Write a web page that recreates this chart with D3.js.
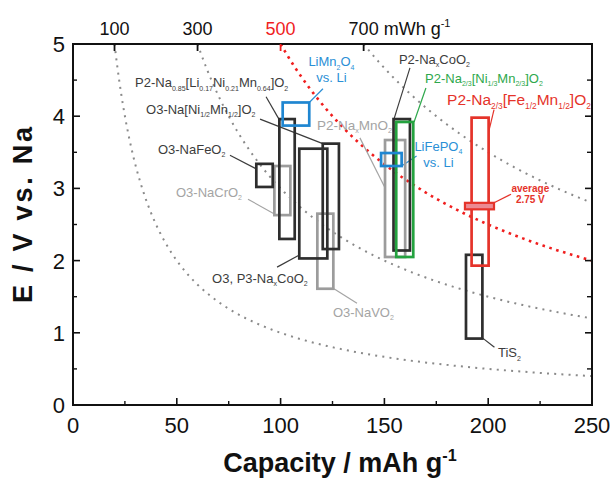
<!DOCTYPE html>
<html><head><meta charset="utf-8">
<script src="https://cdn.jsdelivr.net/npm/d3@7"></script>
<style>
html,body{margin:0;padding:0;background:#fff;}
svg{display:block;font-family:"Liberation Sans",Arial,Helvetica,sans-serif;}
</style></head>
<body><svg id="chart" width="614" height="479"></svg>
<script>
// ---------------- data ----------------
const capacityTicks = [0, 50, 100, 150, 200, 250];
const capacityMinorTicks = [25, 75, 125, 175, 225];
const voltageTicks = [0, 1, 2, 3, 4, 5];
const voltageMinorTicks = [0.5, 1.5, 2.5, 3.5, 4.5];
const energyLevels = [100, 300, 500, 700];           // mWh g-1 iso-energy curves
const energyLabels = ["100", "300", "500", "700"];

const materials = [
  "O3-NaCrO_{2}",
  "O3-NaVO_{2}",
  "P2-Na_{x}MnO_{2}",
  "P2-Na_{0.85}[Li_{0.17}Ni_{0.21}Mn_{0.64}]O_{2}",
  "O3-NaFeO_{2}",
  "O3, P3-Na_{x}CoO_{2}",
  "O3-Na[Ni_{1/2}Mn_{1/2}]O_{2}",
  "P2-Na_{x}CoO_{2}",
  "TiS_{2}",
  "P2-Na_{2/3}[Ni_{1/3}Mn_{2/3}]O_{2}",
  "LiMn_{2}O_{4}",
  "LiFePO_{4}",
  "P2-Na_{2/3}[Fe_{1/2}Mn_{1/2}]O_{2}"
];
const capMin = [97.0, 117.7, 150.3, 99.4, 88.3, 109.0, 120.3, 154.4, 189.3, 155.7, 101.0, 148.4, 192.0];
const capMax = [104.7, 125.4, 160.0, 106.8, 96.2, 122.5, 128.1, 162.3, 197.2, 163.9, 113.8, 158.3, 200.2];
const voltMin = [2.63, 1.61, 2.05, 2.30, 3.02, 2.03, 2.16, 2.14, 0.92, 2.05, 3.87, 3.31, 1.93];
const voltMax = [3.31, 2.65, 3.67, 3.96, 3.34, 3.55, 3.62, 3.96, 2.08, 3.92, 4.19, 3.49, 3.98];
const family = ["Na oxide (other)", "Na oxide (other)", "Na oxide (other)", "Na oxide", "Na oxide",
  "Na oxide", "Na oxide", "Na oxide", "Na oxide", "P2 Ni-Mn", "Li reference", "Li reference", "P2 Fe-Mn"];

const averageVoltage = 2.75;
const averageCapRange = [188.8, 202.8];
const averageVoltRange = [2.71, 2.80];
const averageLabel = ["average", "2.75 V"];

// ---------------- layout / style ----------------
const W = 614, H = 479;
const M = {left: 73, right: 22, top: 44, bottom: 74};
const colors = {
  "Na oxide": "#2e2e2e",
  "Na oxide (other)": "#9c9c9c",
  "P2 Ni-Mn": "#24a23f",
  "Li reference": "#1f86d1",
  "P2 Fe-Mn": "#e5332a"
};
const textColors = {
  "Na oxide": "#3c3c3c",
  "Na oxide (other)": "#a4a4a4",
  "P2 Ni-Mn": "#2ea84c",
  "Li reference": "#2a8fd6",
  "P2 Fe-Mn": "#e5332a"
};
// label placement in data units: [cap, V] of text start/middle, and leader line [from, to]
const labelLayout = {
  "O3-NaCrO_{2}": {at: [49.6, 2.88], anchor: "start", size: 13, line: [[84.3, 2.85], [96.8, 2.65]]},
  "O3-NaVO_{2}": {at: [125.2, 1.22], anchor: "start", size: 13, line: [[125.7, 1.61], [136.8, 1.41]]},
  "P2-Na_{x}MnO_{2}": {at: [117.5, 3.81], anchor: "start", size: 13.5, line: [[138.2, 3.70], [150.3, 3.01]]},
  "P2-Na_{0.85}[Li_{0.17}Ni_{0.21}Mn_{0.64}]O_{2}": {at: [29.9, 4.40], anchor: "start", size: 13, line: [[93.0, 4.27], [99.2, 3.96]]},
  "O3-NaFeO_{2}": {at: [40.9, 3.48], anchor: "start", size: 13, line: [[75.6, 3.46], [88.3, 3.27]]},
  "O3, P3-Na_{x}CoO_{2}": {at: [67.0, 1.69], anchor: "start", size: 13, line: [[98.3, 1.91], [108.6, 2.07]]},
  "O3-Na[Ni_{1/2}Mn_{1/2}]O_{2}": {at: [35.2, 4.03], anchor: "start", size: 13, line: [[90.1, 3.96], [120.3, 3.62]]},
  "P2-Na_{x}CoO_{2}": {at: [157.0, 4.72], anchor: "start", size: 13, line: [[162.3, 4.67], [154.6, 3.96]]},
  "TiS_{2}": {at: [204.7, 0.66], anchor: "start", size: 13, line: [[197.2, 0.93], [203.0, 0.80]]},
  "P2-Na_{2/3}[Ni_{1/3}Mn_{2/3}]O_{2}": {at: [169.6, 4.46], anchor: "start", size: 13, line: [[170.0, 4.39], [164.3, 3.92]]},
  "LiMn_{2}O_{4}": {at: [124.5, 4.69], anchor: "middle", size: 13, second: "vs. Li", line: [[120.4, 4.38], [113.8, 4.19]]},
  "LiFePO_{4}": {at: [176.0, 3.52], anchor: "middle", size: 13, second: "vs. Li", line: [[158.3, 3.31], [165.5, 3.45]]},
  "P2-Na_{2/3}[Fe_{1/2}Mn_{1/2}]O_{2}": {at: [180.2, 4.16], anchor: "start", size: 15.5, line: [[202.8, 4.09], [200.2, 3.78]]}
};

const svg = d3.select("#chart");
const x = d3.scaleLinear().domain([0, 250]).range([M.left, W - M.right]);
const y = d3.scaleLinear().domain([0, 5]).range([H - M.bottom, M.top]);

// rich text helper: _{sub} ^{sup}
function rich(textSel, str, size) {
  const parts = str.split(/(_\{[^}]*\}|\^\{[^}]*\})/).filter(p => p.length);
  let shift = 0;
  parts.forEach(p => {
    const t = textSel.append("tspan");
    if (p.startsWith("_{")) {
      const d = size * 0.25;
      t.text(p.slice(2, -1)).attr("font-size", size * 0.54).attr("dy", d - shift);
      shift = d;
    } else if (p.startsWith("^{")) {
      const d = -size * 0.42;
      t.text(p.slice(2, -1)).attr("font-size", size * 0.6).attr("dy", d - shift);
      shift = d;
    } else {
      t.text(p).attr("dy", -shift);
      shift = 0;
    }
  });
}

// ---------- iso-energy dotted curves ----------
const curveG = svg.append("g");
energyLevels.forEach(E => {
  const c0 = E / 5;
  const pts = d3.range(0, 201).map(i => {
    const c = c0 + (250 - c0) * i / 200;
    return [c, E / c];
  });
  const red = E === 500;
  curveG.append("path")
    .attr("d", d3.line().x(d => x(d[0])).y(d => y(d[1]))(pts))
    .attr("fill", "none")
    .attr("stroke", red ? "#f01e1e" : "#8a8a8a")
    .attr("stroke-width", red ? 2.6 : 2)
    .attr("stroke-dasharray", red ? "2.6,4.6" : "2,5.2");
});

// ---------- leader lines ----------
const lineG = svg.append("g");
materials.forEach((m, i) => {
  const L = labelLayout[m];
  lineG.append("line")
    .attr("x1", x(L.line[0][0])).attr("y1", y(L.line[0][1]))
    .attr("x2", x(L.line[1][0])).attr("y2", y(L.line[1][1]))
    .attr("stroke", textColors[family[i]]).attr("stroke-width", 1.2);
});
lineG.append("line")
  .attr("x1", x(averageCapRange[1])).attr("y1", y(averageVoltRange[1]))
  .attr("x2", x(211)).attr("y2", y(2.92))
  .attr("stroke", "#e5332a").attr("stroke-width", 1.2);

// ---------- boxes ----------
const boxG = svg.append("g");
d3.range(materials.length).forEach(i => {
  boxG.append("rect")
    .attr("x", x(capMin[i])).attr("y", y(voltMax[i]))
    .attr("width", x(capMax[i]) - x(capMin[i]))
    .attr("height", y(voltMin[i]) - y(voltMax[i]))
    .attr("fill", "none")
    .attr("stroke", colors[family[i]])
    .attr("stroke-width", 2.7);
});
// average bar
boxG.append("rect")
  .attr("x", x(averageCapRange[0])).attr("y", y(averageVoltRange[1]))
  .attr("width", x(averageCapRange[1]) - x(averageCapRange[0]))
  .attr("height", y(averageVoltRange[0]) - y(averageVoltRange[1]))
  .attr("fill", "#ec8a93").attr("stroke", "#e5332a").attr("stroke-width", 2.2);

// ---------- labels ----------
const labG = svg.append("g");
materials.forEach((m, i) => {
  const L = labelLayout[m];
  const t = labG.append("text")
    .attr("x", x(L.at[0])).attr("y", y(L.at[1]))
    .attr("text-anchor", L.anchor)
    .attr("font-size", L.size)
    .attr("fill", textColors[family[i]]);
  rich(t, m, L.size);
  if (L.second) {
    labG.append("text")
      .attr("x", x(L.at[0])).attr("y", y(L.at[1]) + 16)
      .attr("text-anchor", L.anchor)
      .attr("font-size", L.size)
      .attr("fill", textColors[family[i]])
      .text(L.second);
  }
});
averageLabel.forEach((s, k) => {
  labG.append("text")
    .attr("x", x(220.3)).attr("y", y(2.95) + k * 10.5)
    .attr("text-anchor", "middle")
    .attr("font-size", 10).attr("font-weight", "bold")
    .attr("fill", "#e5332a").text(s);
});

// ---------- axes frame & ticks ----------
const axG = svg.append("g");
axG.append("rect")
  .attr("x", x(0)).attr("y", y(5))
  .attr("width", x(250) - x(0)).attr("height", y(0) - y(5))
  .attr("fill", "none").attr("stroke", "#111").attr("stroke-width", 2);

const tickStroke = "#111";
capacityTicks.forEach(c => axG.append("line").attr("x1", x(c)).attr("x2", x(c))
  .attr("y1", y(0)).attr("y2", y(0) - 7).attr("stroke", tickStroke).attr("stroke-width", 1.6));
capacityMinorTicks.forEach(c => axG.append("line").attr("x1", x(c)).attr("x2", x(c))
  .attr("y1", y(0)).attr("y2", y(0) - 4).attr("stroke", tickStroke).attr("stroke-width", 1.4));
voltageTicks.forEach(v => {
  axG.append("line").attr("x1", x(0)).attr("x2", x(0) + 7).attr("y1", y(v)).attr("y2", y(v))
    .attr("stroke", tickStroke).attr("stroke-width", 1.6);
  axG.append("line").attr("x1", x(250)).attr("x2", x(250) - 7).attr("y1", y(v)).attr("y2", y(v))
    .attr("stroke", tickStroke).attr("stroke-width", 1.6);
});
voltageMinorTicks.forEach(v => {
  axG.append("line").attr("x1", x(0)).attr("x2", x(0) + 4).attr("y1", y(v)).attr("y2", y(v))
    .attr("stroke", tickStroke).attr("stroke-width", 1.4);
  axG.append("line").attr("x1", x(250)).attr("x2", x(250) - 5).attr("y1", y(v)).attr("y2", y(v))
    .attr("stroke", tickStroke).attr("stroke-width", 1.4);
});
energyLevels.forEach(E => axG.append("line").attr("x1", x(E / 5)).attr("x2", x(E / 5))
  .attr("y1", y(5)).attr("y2", y(5) + 7)
  .attr("stroke", E === 500 ? "#f01e1e" : tickStroke).attr("stroke-width", 1.8));

// tick labels
capacityTicks.forEach(c => axG.append("text").attr("x", x(c)).attr("y", 433)
  .attr("text-anchor", "middle").attr("font-size", 22).attr("fill", "#111").text(c));
voltageTicks.forEach(v => axG.append("text").attr("x", 65).attr("y", y(v))
  .attr("dy", "0.36em").attr("text-anchor", "end").attr("font-size", 22).attr("fill", "#111").text(v));
energyLevels.forEach((E, k) => {
  const t = axG.append("text").attr("y", 35).attr("font-size", 18)
    .attr("fill", E === 500 ? "#f01e1e" : "#111");
  const first = t.append("tspan").text(energyLabels[k]);
  if (k === energyLevels.length - 1) {
    t.append("tspan").text(" mWh g");
    t.append("tspan").text("-1").attr("font-size", 11).attr("dy", -8);
  }
  const len = first.node().getComputedTextLength();
  t.attr("x", x(E / 5) - len / 2);
});

// axis titles
const xt = svg.append("text").attr("x", 340).attr("y", 472).attr("text-anchor", "middle")
  .attr("font-size", 27).attr("font-weight", "bold").attr("fill", "#111");
rich(xt, "Capacity / mAh g^{-1}", 27);
svg.append("text").attr("transform", "translate(32,215) rotate(-90)")
  .attr("text-anchor", "middle").attr("font-size", 27).attr("font-weight", "bold")
  .attr("fill", "#111")
  .attr("textLength", 176).attr("lengthAdjust", "spacing")
  .text("E / V vs. Na");
</script></body></html>
